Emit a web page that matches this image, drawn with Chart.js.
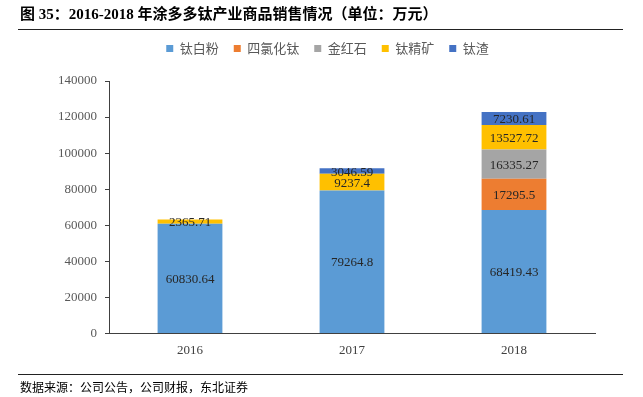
<!DOCTYPE html>
<html><head><meta charset="utf-8">
<script src="https://cdn.jsdelivr.net/npm/chart.js@4.4.1/dist/chart.umd.min.js"></script>
<style>
html,body{margin:0;padding:0;background:#fff;}
#wrap{position:relative;width:643px;height:397px;overflow:hidden;}
#title{position:absolute;left:20px;top:2px;font:bold 15px "Liberation Serif","Noto Sans CJK SC",serif;color:#000;white-space:nowrap;}
#tline{position:absolute;left:18px;top:29px;width:605px;height:1px;background:#222;}
#sline{position:absolute;left:18px;top:374px;width:605px;height:1px;background:#222;}
#src{position:absolute;left:20px;top:378px;font:12px "Noto Sans CJK SC",serif;color:#000;white-space:nowrap;}
#c{position:absolute;left:0;top:0;}
</style></head><body>
<div id="wrap">
<canvas id="c" width="643" height="397"></canvas>
<div id="title">图 35：2016-2018 年涂多多钛产业商品销售情况（单位：万元）</div>
<div id="tline"></div>
<div id="sline"></div>
<div id="src">数据来源：公司公告，公司财报，东北证券</div>
</div>
<script>
const categories = ["2016", "2017", "2018"];
const seriesNames = ["钛白粉", "四氯化钛", "金红石", "钛精矿", "钛渣"];
const taiBaiFen = [60830.64, 79264.8, 68419.43];
const siLvHuaTai = [0, 0, 17295.5];
const jinHongShi = [0, 0, 16335.27];
const taiJingKuang = [2365.71, 9237.4, 13527.72];
const taiZha = [0, 3046.59, 7230.61];
const yTicks = [0, 20000, 40000, 60000, 80000, 100000, 120000, 140000];
const colors = ["#5B9BD5", "#ED7D31", "#A5A5A5", "#FFC000", "#4472C4"];
const seriesData = [taiBaiFen, siLvHuaTai, jinHongShi, taiJingKuang, taiZha];

const labelPlugin = {
  id: 'segLabels',
  afterDatasetsDraw(chart) {
    const ctx = chart.ctx;
    ctx.save();
    ctx.font = '13px "Liberation Serif", serif';
    ctx.fillStyle = '#262626';
    ctx.textAlign = 'center';
    ctx.textBaseline = 'middle';
    chart.data.datasets.forEach((ds, i) => {
      const meta = chart.getDatasetMeta(i);
      meta.data.forEach((bar, j) => {
        const v = ds.data[j];
        if (!v) return;
        const p = bar.getProps(['x', 'y', 'base'], true);
        ctx.fillText(String(v), p.x, (p.y + p.base) / 2 + 1);
      });
    });
    ctx.restore();
  }
};

const legendGap = {
  id: 'legendGap',
  beforeInit(chart) {
    const lg = chart.legend;
    const fit = lg.fit;
    lg.fit = function () { fit.call(this); this.height += 16; };
  }
};

new Chart(document.getElementById('c'), {
  type: 'bar',
  data: {
    labels: categories,
    datasets: seriesNames.map((n, i) => ({
      label: n,
      data: seriesData[i],
      backgroundColor: colors[i],
      borderWidth: 0,
      categoryPercentage: 0.4,
      barPercentage: 1.0
    }))
  },
  options: {
    responsive: false,
    animation: false,
    layout: { padding: { left: 12, right: 0, top: 27, bottom: 30 } },
    plugins: {
      tooltip: { enabled: false },
      legend: {
        position: 'top',
        labels: {
          boxWidth: 7, boxHeight: 7,
          font: { size: 13, family: '"Noto Sans CJK SC", sans-serif' },
          color: '#595959',
          padding: 15
        }
      }
    },
    scales: {
      x: {
        stacked: true,
        grid: { display: false, drawTicks: false },
        border: { display: true, color: '#404040', width: 1 },
        ticks: { color: '#404040', font: { size: 13, family: '"Liberation Serif", serif' }, padding: 9 }
      },
      y: {
        stacked: true,
        min: 0, max: 140000,
        afterFit(s) { s.width = 97; },
        afterBuildTicks(s) { s.ticks = yTicks.map(v => ({ value: v })); },
        grid: { display: true, drawOnChartArea: false, drawTicks: true, tickLength: 4, color: '#404040' },
        border: { display: true, color: '#404040', width: 1 },
        ticks: { color: '#595959', font: { size: 13, family: '"Liberation Serif", serif' }, padding: 8,
                 callback: v => String(v) }
      },
      yRight: {
        position: 'right',
        display: true,
        afterFit(s) { s.width = 48; },
        grid: { display: false, drawTicks: false },
        border: { display: false },
        ticks: { display: false }
      }
    }
  },
  plugins: [labelPlugin, legendGap]
});
</script>
</body></html>
